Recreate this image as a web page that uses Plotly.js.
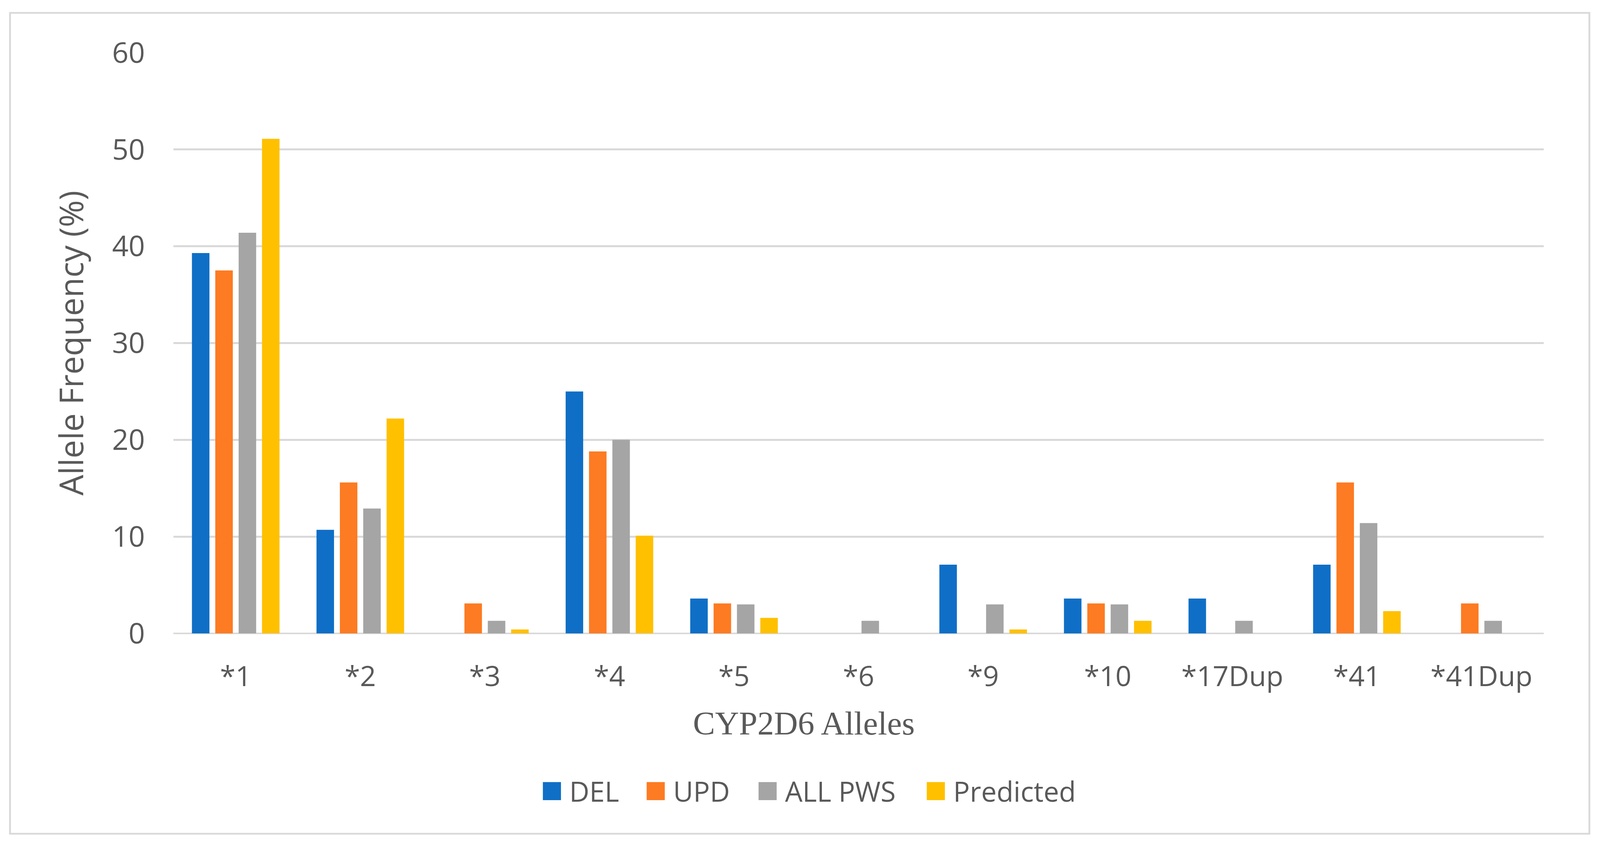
<!DOCTYPE html>
<html>
<head>
<meta charset="utf-8">
<script src="https://cdn.plot.ly/plotly-3.0.1.min.js"></script>
<style>
  html, body { margin: 0; padding: 0; background: #ffffff; overflow: hidden; }
  #chart { position: absolute; left: 0; top: 0; }
</style>
</head>
<body>
<div id="chart"></div>
<script>
// ---- data ----
var categories = ['*1', '*2', '*3', '*4', '*5', '*6', '*9', '*10', '*17Dup', '*41', '*41Dup'];
var seriesNames = ['DEL', 'UPD', 'ALL PWS', 'Predicted'];
var delValues       = [39.3, 10.7, 0,   25.0, 3.6, 0,   7.1, 3.6, 3.6, 7.1, 0];
var updValues       = [37.5, 15.6, 3.1, 18.8, 3.1, 0,   0,   3.1, 0,   15.6, 3.1];
var allPwsValues    = [41.4, 12.9, 1.3, 20.0, 3.0, 1.3, 3.0, 3.0, 1.3, 11.4, 1.3];
var predictedValues = [51.1, 22.2, 0.4, 10.1, 1.6, 0,   0.4, 1.3, 0,   2.3,  0];
var yTickValues = [0, 10, 20, 30, 40, 50, 60];
var xAxisTitle = 'CYP2D6 Alleles';
var yAxisTitle = 'Allele Frequency (%)';

// ---- styles ----
var colors = ['#0F6FC6', '#FD7B22', '#A5A5A5', '#FFC000'];
var textColor = '#595959';
var gridColor = '#D9D9D9';

// design frame (reference pixels); adapt to the real viewport
var DW = 4347, DH = 2169;
var VW = window.innerWidth || document.documentElement.clientWidth || DW;
var VH = window.innerHeight || document.documentElement.clientHeight || DH;
var sx = VW / DW, sy = VH / DH, fs = Math.min(sx, sy);
var M = {l: 471, r: 153, t: 135, b: 547};
var plotW = DW - M.l - M.r, plotH = DH - M.t - M.b;
function px2x(px) { return (px - M.l) / plotW; }
function px2y(py) { return (DH - M.b - py) / plotH; }

var allSeries = [delValues, updValues, allPwsValues, predictedValues];
var legendIds = ['legend', 'legend2', 'legend3', 'legend4'];
var legendSymbolLeft = [1474, 1756, 2060, 2517];

var traces = allSeries.map(function (vals, i) {
  return {
    type: 'bar',
    name: seriesNames[i],
    x: categories,
    y: vals,
    marker: {color: colors[i], line: {width: 0}},
    legend: legendIds[i],
    hoverinfo: 'skip'
  };
});

var legendFont = {family: 'Open Sans, sans-serif', size: 75 * fs, color: textColor};
var layout = {
  width: VW, height: VH,
  margin: {l: M.l * sx, r: M.r * sx, t: M.t * sy, b: M.b * sy, pad: 0},
  paper_bgcolor: '#ffffff',
  plot_bgcolor: '#ffffff',
  barmode: 'group',
  bargap: 0.25,
  bargroupgap: 0.25,
  showlegend: true,
  xaxis: {
    type: 'category',
    categoryorder: 'array',
    categoryarray: categories,
    showgrid: false, showline: false, zeroline: false,
    ticks: '', ticklen: 0,
    ticklabelstandoff: Math.round(62 * sy),
    tickfont: {family: 'Open Sans, sans-serif', size: 76 * fs, color: textColor},
    fixedrange: true
  },
  yaxis: {
    range: [0, 60],
    tickvals: yTickValues,
    showgrid: true, gridcolor: gridColor, gridwidth: 5 * fs,
    zeroline: true, zerolinecolor: gridColor, zerolinewidth: 5 * fs,
    showline: false,
    ticks: '', ticklen: 0,
    ticklabelstandoff: Math.round(76 * sx),
    tickfont: {family: 'Open Sans, sans-serif', size: 78 * fs, color: textColor},
    title: {
      text: yAxisTitle,
      font: {family: 'Open Sans, sans-serif', size: 89 * fs, color: textColor},
      standoff: Math.round(48 * sx)
    },
    fixedrange: true
  },
  annotations: [{
    text: xAxisTitle,
    xref: 'paper', yref: 'paper',
    x: px2x(2184), y: px2y(1852),
    xanchor: 'center', yanchor: 'middle',
    showarrow: false,
    font: {family: 'Liberation Serif, serif', size: 90 * fs, color: textColor}
  }],
  shapes: [{
    type: 'rect', xref: 'paper', yref: 'paper', layer: 'below',
    x0: px2x(27), x1: px2x(4318), y0: px2y(2135), y1: px2y(33),
    line: {color: gridColor, width: 5 * fs},
    fillcolor: 'rgba(0,0,0,0)'
  }]
};

legendIds.forEach(function (id, i) {
  layout[id] = {
    orientation: 'h',
    x: px2x(legendSymbolLeft[i] - 22), xanchor: 'left',
    y: px2y(2026), yanchor: 'middle',
    font: legendFont,
    itemwidth: Math.max(30, 84 * fs),
    bgcolor: 'rgba(0,0,0,0)',
    borderwidth: 0,
    itemclick: false, itemdoubleclick: false
  };
});

Plotly.newPlot('chart', traces, layout, {displayModeBar: false, staticPlot: true}).then(function (gd) {
  // enlarge legend swatches to match the reference's large square keys
  gd.querySelectorAll('.legendpoints path').forEach(function (p) {
    var t = p.getAttribute('transform') || '';
    p.setAttribute('transform', t + ' scale(' + (4.1 * fs) + ')');
  });
});
</script>
</body>
</html>
